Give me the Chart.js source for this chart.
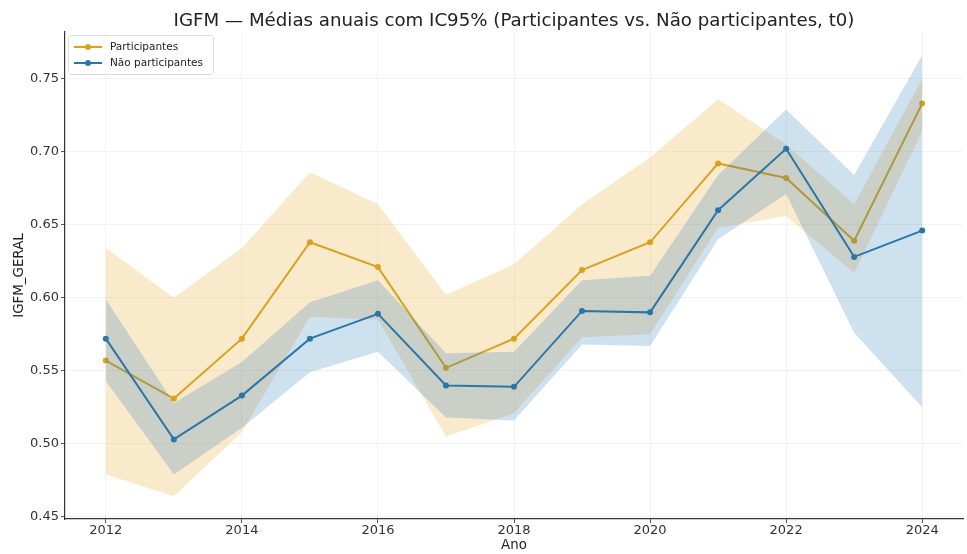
<!DOCTYPE html>
<html>
<head>
<meta charset="utf-8">
<script src="https://cdn.jsdelivr.net/npm/chart.js@4/dist/chart.umd.min.js"></script>
<style>
  html, body { margin: 0; padding: 0; background: #fff; }
  #wrap { width: 967px; height: 554px; position: relative; }
</style>
</head>
<body>
<div id="wrap"><canvas id="c" width="967" height="554"></canvas></div>
<script>
// ---- Data ----
const years = [2012, 2013, 2014, 2015, 2016, 2017, 2018, 2019, 2020, 2021, 2022, 2023, 2024];

const partMean  = [0.557, 0.531, 0.572, 0.638, 0.621, 0.552, 0.572, 0.619, 0.638, 0.692, 0.682, 0.639, 0.733];
const partUpper = [0.634, 0.600, 0.634, 0.686, 0.664, 0.602, 0.623, 0.664, 0.696, 0.736, 0.705, 0.664, 0.750];
const partLower = [0.479, 0.464, 0.508, 0.587, 0.585, 0.505, 0.521, 0.573, 0.575, 0.648, 0.656, 0.617, 0.714];

const nonMean  = [0.572, 0.503, 0.533, 0.572, 0.589, 0.540, 0.539, 0.591, 0.590, 0.660, 0.702, 0.628, 0.646];
const nonUpper = [0.599, 0.528, 0.556, 0.597, 0.612, 0.562, 0.563, 0.612, 0.615, 0.684, 0.729, 0.684, 0.766];
const nonLower = [0.543, 0.479, 0.511, 0.549, 0.563, 0.518, 0.516, 0.568, 0.567, 0.640, 0.671, 0.576, 0.525];

const yTicks = [0.45, 0.50, 0.55, 0.60, 0.65, 0.70, 0.75];
const xTicks = [2012, 2014, 2016, 2018, 2020, 2022, 2024];

const labelPart = 'Participantes';
const labelNon = 'Não participantes';
const titleText = 'IGFM — Médias anuais com IC95% (Participantes vs. Não participantes, t0)';
const xTitle = 'Ano';
const yTitle = 'IGFM_GERAL';

// ---- Styles ----
const ORANGE = '#D9A21E';
const BLUE = '#2B76A8';
const ORANGE_FILL = 'rgba(236,172,52,0.25)';
const BLUE_FILL = 'rgba(31,119,180,0.22)';
const FONT = "'DejaVu Sans', sans-serif";

const pts = arr => years.map((y, i) => ({ x: y, y: arr[i] }));

// title centred over the plot area (matplotlib style)
const axesTitle = {
  id: 'axesTitle',
  afterDraw(chart) {
    const ctx = chart.ctx, a = chart.chartArea;
    ctx.save();
    ctx.font = '18.2px ' + FONT;
    ctx.fillStyle = '#222';
    ctx.textAlign = 'center';
    ctx.textBaseline = 'alphabetic';
    ctx.fillText(titleText, (a.left + a.right) / 2, 26);
    ctx.restore();
  }
};

// legend drawn inside the plot area (top-left), like matplotlib
const innerLegend = {
  id: 'innerLegend',
  afterDatasetsDraw(chart) {
    const ctx = chart.ctx;
    const a = chart.chartArea;
    const items = [
      { text: labelPart, color: ORANGE },
      { text: labelNon, color: BLUE }
    ];
    const x0 = a.left + 3, y0 = a.top + 3;
    ctx.save();
    ctx.font = '10.5px ' + FONT;
    let w = 0;
    items.forEach(it => { w = Math.max(w, ctx.measureText(it.text).width); });
    const boxW = 6 + 28 + 8 + w + 10, rowH = 16, boxH = 5 + rowH * items.length + 2;
    ctx.fillStyle = 'rgba(255,255,255,0.8)';
    ctx.strokeStyle = '#dddddd';
    ctx.lineWidth = 1;
    ctx.beginPath();
    ctx.roundRect ? ctx.roundRect(x0 + 0.5, y0 + 0.5, boxW, boxH, 2) : ctx.rect(x0 + 0.5, y0 + 0.5, boxW, boxH);
    ctx.fill(); ctx.stroke();
    items.forEach((it, i) => {
      const cy = y0 + 5 + rowH * i + rowH / 2 - 1;
      const lx = x0 + 6;
      ctx.strokeStyle = it.color; ctx.lineWidth = 2;
      ctx.beginPath(); ctx.moveTo(lx, cy); ctx.lineTo(lx + 28, cy); ctx.stroke();
      ctx.fillStyle = it.color;
      ctx.beginPath(); ctx.arc(lx + 14, cy, 3, 0, Math.PI * 2); ctx.fill();
      ctx.fillStyle = '#222';
      ctx.textBaseline = 'middle';
      ctx.textAlign = 'left';
      ctx.fillText(it.text, lx + 36, cy);
    });
    ctx.restore();
  }
};

const bandDs = (data, fill, bg, order) => ({
  data: pts(data), fill: fill, backgroundColor: bg, borderWidth: 0, order: order,
  pointRadius: 0, pointHoverRadius: 0, tension: 0, borderColor: 'rgba(0,0,0,0)'
});

new Chart(document.getElementById('c'), {
  type: 'line',
  data: {
    datasets: [
      bandDs(partLower, false, 'rgba(0,0,0,0)', 6),
      bandDs(partUpper, 0, ORANGE_FILL, 5),
      bandDs(nonLower, false, 'rgba(0,0,0,0)', 3),
      bandDs(nonUpper, 2, BLUE_FILL, 2),
      { label: labelPart, data: pts(partMean), borderColor: ORANGE, backgroundColor: ORANGE, order: 4,
        borderWidth: 2, pointRadius: 3, pointBorderWidth: 0, tension: 0, fill: false },
      { label: labelNon, data: pts(nonMean), borderColor: BLUE, backgroundColor: BLUE, order: 1,
        borderWidth: 2, pointRadius: 3, pointBorderWidth: 0, tension: 0, fill: false }
    ]
  },
  options: {
    responsive: false,
    animation: false,
    events: [],
    layout: { padding: { left: 11.5, right: 2, top: 32, bottom: 0 } },
    plugins: {
      legend: { display: false },
      tooltip: { enabled: false },
      filler: { propagate: false },
      title: { display: false }
    },
    scales: {
      x: {
        type: 'linear', min: 2011.4, max: 2024.6,
        afterBuildTicks: s => { s.ticks = xTicks.map(v => ({ value: v })); },
        afterFit: s => { s.height = 35; },
        ticks: { color: '#333', font: { family: FONT, size: 13 }, padding: 0,
                 callback: v => String(v), maxRotation: 0, autoSkip: false },
        grid: { color: 'rgba(0,0,0,0.05)', tickColor: '#555', tickLength: 4, drawTicks: true },
        border: { color: '#333', width: 1.2 },
        title: { display: true, text: xTitle, color: '#222', font: { family: FONT, size: 13.4 }, padding: { top: 0, bottom: 0 } }
      },
      y: {
        type: 'linear', min: 0.4485, max: 0.782,
        afterBuildTicks: s => { s.ticks = yTicks.map(v => ({ value: v })); },
        afterFit: s => { s.width = 53.5; },
        ticks: { color: '#333', font: { family: FONT, size: 13 }, padding: 2,
                 callback: v => Number(v).toFixed(2), autoSkip: false },
        grid: { color: 'rgba(0,0,0,0.05)', tickColor: '#555', tickLength: 4, drawTicks: true },
        border: { color: '#333', width: 1.2 },
        title: { display: true, text: yTitle, color: '#222', font: { family: FONT, size: 13.4 }, padding: { top: 0, bottom: 0 } }
      }
    }
  },
  plugins: [innerLegend, axesTitle]
});
</script>
</body>
</html>
